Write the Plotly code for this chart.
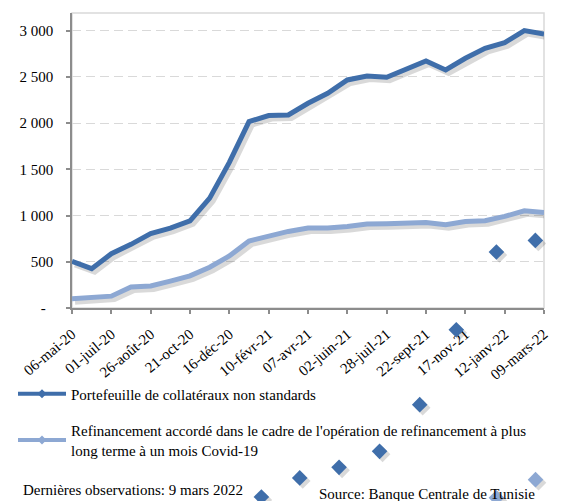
import plotly.graph_objects as go

# ---------------- data ----------------
dates = ["06-mai-20", "03-juin-20", "01-juil-20", "29-juil-20", "26-août-20", "23-sept-20",
         "21-oct-20", "18-nov-20", "16-déc-20", "13-janv-21", "10-févr-21", "10-mars-21",
         "07-avr-21", "05-mai-21", "02-juin-21", "30-juin-21", "28-juil-21", "25-août-21",
         "22-sept-21", "20-oct-21", "17-nov-21", "15-déc-21", "12-janv-22", "09-févr-22",
         "09-mars-22"]
portefeuille = [504, 425, 587, 688, 805, 864, 943, 1188, 1575, 2016, 2081, 2088, 2214, 2322,
                2466, 2509, 2495, 2585, 2671, 2574, 2700, 2808, 2869, 2999, 2963]
refinancement = [100, 108, 128, 227, 238, 290, 347, 441, 562, 725, 781, 828, 864, 864,
                 882, 907, 911, 918, 925, 900, 936, 943, 990, 1051, 1033]
# stray diamond markers visible in the source image (position index, value)
dark_diamond_x = [9.63, 11.58, 13.58, 15.64, 17.68, 19.54, 21.58, 23.56]
dark_diamond_y = [-2043, -1837, -1723, -1550, -1045, -235, 605, 731]
light_diamond_x = [21.58, 23.57]
light_diamond_y = [-2053, -1856]

tick_labels = dates[::2]
y_ticks = [0, 500, 1000, 1500, 2000, 2500, 3000]
y_tick_text = ["-<span style='color:rgba(0,0,0,0)'>0</span>", "500", "1 000", "1 500",
               "2 000", "2 500", "3 000"]

name1 = "Portefeuille de collatéraux non standards"
name2 = ("Refinancement accordé dans le cadre de l'opération de refinancement à plus<br>"
         "long terme à un mois Covid-19")

# ---------------- style ----------------
OFF = 8                      # page body margin of the browser
W, H = 564 - OFF, 501 - OFF
ML, MR, MT, MB = 64, 20, 5, 0
PB = 300                     # pixel row of plot bottom (figure coords)
PLOT_H = H - MT - MB
PW = W - ML - MR
d_bottom = (H - MB - PB) / PLOT_H
FONT = "Liberation Serif"
DARK = "#3F6EAA"
LIGHT = "#8DA8D3"
SHADOW = "rgba(0,0,0,0.15)"

n = len(dates)
xr = [0, n - 1]
yr = [0, 3190]
main_px = PB - MT
ppu = (yr[1] - yr[0]) / main_px          # value units per pixel
sx = 3 * (xr[1] - xr[0]) / PW            # 3px shift right
sy = 3 * ppu                              # 3px shift down
y4r = [yr[0] - (H - MB - PB) * ppu, yr[1]]

x_idx = list(range(n))

fig = go.Figure()

# line shadows (overlay axes shifted a few pixels)
for ys in [portefeuille, refinancement]:
    fig.add_trace(go.Scatter(x=x_idx, y=ys, mode="lines", line=dict(color=SHADOW, width=6),
                             xaxis="x2", yaxis="y2", showlegend=False, hoverinfo="skip"))

# main lines
fig.add_trace(go.Scatter(x=x_idx, y=portefeuille, mode="lines", line=dict(color=DARK, width=5),
                         xaxis="x3", yaxis="y3", showlegend=False))
fig.add_trace(go.Scatter(x=x_idx, y=refinancement, mode="lines", line=dict(color=LIGHT, width=5),
                         xaxis="x3", yaxis="y3", showlegend=False))

# diamonds on a full-height subplot sharing the same value scale
fig.add_trace(go.Scatter(x=dark_diamond_x + light_diamond_x, y=dark_diamond_y + light_diamond_y,
                         mode="markers", marker=dict(symbol="diamond", size=12, color=SHADOW),
                         xaxis="x4", yaxis="y4", showlegend=False, cliponaxis=False,
                         hoverinfo="skip"))
fig.add_trace(go.Scatter(x=dark_diamond_x, y=dark_diamond_y, mode="markers",
                         marker=dict(symbol="diamond", size=12, color=DARK),
                         xaxis="x5", yaxis="y5", showlegend=False, cliponaxis=False))
fig.add_trace(go.Scatter(x=light_diamond_x, y=light_diamond_y, mode="markers",
                         marker=dict(symbol="diamond", size=12, color=LIGHT),
                         xaxis="x5", yaxis="y5", showlegend=False, cliponaxis=False))

# legend entries (nothing visible in the plot area)
fig.add_trace(go.Scatter(x=[0], y=[-99999], mode="lines+markers", name=name1,
                         line=dict(color=DARK, width=4),
                         marker=dict(symbol="diamond", size=7, color=DARK), legend="legend"))
fig.add_trace(go.Scatter(x=[0], y=[-99999], mode="lines+markers", name=name2,
                         line=dict(color=LIGHT, width=4),
                         marker=dict(symbol="diamond", size=7, color=LIGHT), legend="legend2"))

axis_font = dict(family=FONT, size=15, color="black")
legend_font = dict(family=FONT, size=15, color="black")
main_dom = [d_bottom, 1]

fig.update_layout(
    width=W, height=H,
    margin=dict(l=ML, r=MR, t=MT, b=MB, autoexpand=False),
    paper_bgcolor="white", plot_bgcolor="rgba(0,0,0,0)",
    font=dict(family=FONT, size=15, color="black"),
    xaxis=dict(range=xr, tickvals=x_idx[::2], ticktext=tick_labels, tickangle=-40,
               tickfont=axis_font, showgrid=False, zeroline=False, domain=[0, 1],
               showline=True, linecolor="#8C8C8C", linewidth=1.5, anchor="y",
               ticks="outside", ticklen=4, tickcolor="#8C8C8C", tickwidth=1.5,
               ticklabelstandoff=6, automargin=False),
    yaxis=dict(range=yr, tickvals=y_ticks, ticktext=y_tick_text, tickfont=axis_font,
               showgrid=True, gridcolor="#D9D9D9", griddash="9px,5px", gridwidth=1.3,
               zeroline=False, showline=True, linecolor="#8C8C8C", linewidth=1.5,
               ticks="outside", ticklen=4, tickcolor="#8C8C8C", tickwidth=1.5,
               domain=main_dom, anchor="x", ticklabelstandoff=10, automargin=False),
    xaxis2=dict(range=[xr[0] - sx, xr[1] - sx], overlaying="x", anchor="y2",
                domain=[0, 1], visible=False),
    yaxis2=dict(range=[yr[0] + sy, yr[1] + sy], overlaying="y", anchor="x2",
                domain=main_dom, visible=False),
    xaxis3=dict(range=xr, overlaying="x", anchor="y3", domain=[0, 1], visible=False),
    yaxis3=dict(range=yr, overlaying="y", anchor="x3", domain=main_dom, visible=False),
    xaxis4=dict(range=[xr[0] - sx, xr[1] - sx], anchor="y4", domain=[0, 1], visible=False),
    yaxis4=dict(range=[y4r[0] + sy, y4r[1] + sy], anchor="x4", domain=[0, 1], visible=False),
    xaxis5=dict(range=xr, overlaying="x4", anchor="y5", domain=[0, 1], visible=False),
    yaxis5=dict(range=y4r, overlaying="y4", anchor="x5", domain=[0, 1], visible=False),
    legend=dict(xref="container", yref="container", x=5 / W, y=1 - 386 / H,
                xanchor="left", yanchor="middle", itemwidth=48,
                bgcolor="rgba(0,0,0,0)", font=legend_font),
    legend2=dict(xref="container", yref="container", x=5 / W, y=1 - 406 / H,
                 xanchor="left", yanchor="top", itemwidth=48,
                 bgcolor="rgba(0,0,0,0)", font=legend_font),
    shapes=[dict(type="rect", xref="x domain", yref="y domain", x0=0, x1=1, y0=0, y1=1,
                 line=dict(color="#D9D9D9", width=1.5), layer="below")],
    annotations=[
        dict(xref="paper", yref="paper", x=(21 - OFF - ML) / PW,
             y=(H - MB - (490 - OFF)) / PLOT_H,
             xanchor="left", yanchor="middle", showarrow=False,
             text="Dernières observations: 9 mars 2022", font=dict(family=FONT, size=15)),
        dict(xref="paper", yref="paper", x=(317 - OFF - ML) / PW,
             y=(H - MB - (494 - OFF)) / PLOT_H,
             xanchor="left", yanchor="middle", showarrow=False,
             text="Source: Banque Centrale de Tunisie", font=dict(family=FONT, size=15)),
    ],
    showlegend=True,
)

fig.write_html("out.html")
